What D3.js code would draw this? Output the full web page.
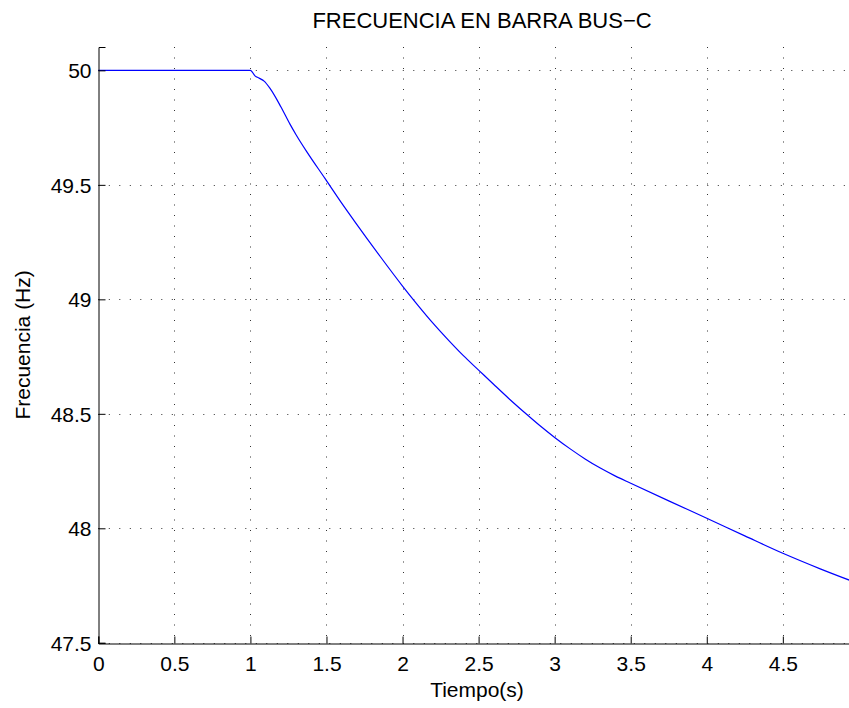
<!DOCTYPE html>
<html><head><meta charset="utf-8">
<script src="https://cdn.jsdelivr.net/npm/d3@7"></script>
<style>body{margin:0;background:#fff;} svg{display:block;font-family:"Liberation Sans",Arial,sans-serif;}</style>
</head><body>
<svg id="c" width="849" height="708"></svg>
<script>
const title = "FRECUENCIA EN BARRA BUS\u2212C";
const xLabel = "Tiempo(s)";
const yLabel = "Frecuencia (Hz)";
const xTicks = [0, 0.5, 1, 1.5, 2, 2.5, 3, 3.5, 4, 4.5];
const yTicks = [47.5, 48, 48.5, 49, 49.5, 50];
const time = [0, 1.0, 1.03, 1.06, 1.09, 1.13, 1.2, 1.26, 1.3, 1.37, 1.49, 1.6, 1.68, 1.85, 2.0, 2.1, 2.2, 2.3, 2.4, 2.5, 2.6, 2.7, 2.8, 2.9, 3.0, 3.1, 3.2, 3.3, 3.4, 3.5, 3.75, 4.0, 4.25, 4.5, 4.75, 4.94];
const freq = [50, 50, 49.976, 49.965, 49.953, 49.92, 49.841, 49.765, 49.719, 49.645, 49.528, 49.42, 49.345, 49.19, 49.058, 48.975, 48.896, 48.823, 48.754, 48.691, 48.628, 48.566, 48.507, 48.45, 48.397, 48.348, 48.303, 48.263, 48.228, 48.197, 48.12, 48.044, 47.967, 47.891, 47.822, 47.773];

const svg = d3.select("#c");
const L = 98.3, R = 849, T = 47, B = 642.8;
const x = d3.scaleLinear().domain([0, 4.935]).range([L, R]);
const y = d3.scaleLinear().domain([47.5, 50.102]).range([B, T]);

const g = svg.append("g");
// grid
g.selectAll(".vg").data(xTicks.slice(1)).enter().append("line")
  .attr("x1", d => Math.round(x(d)) + 0.5).attr("x2", d => Math.round(x(d)) + 0.5)
  .attr("y1", T).attr("y2", B)
  .attr("stroke", "#333").attr("stroke-width", 1).attr("stroke-dasharray", "1,9.5");
g.selectAll(".hg").data(yTicks).enter().append("line")
  .attr("y1", d => Math.round(y(d)) + 0.5).attr("y2", d => Math.round(y(d)) + 0.5)
  .attr("x1", L).attr("x2", R)
  .attr("stroke", "#333").attr("stroke-width", 1).attr("stroke-dasharray", "1,9.5");

// line
const line = d3.line().x((d, i) => x(time[i])).y(d => y(d)).curve(d3.curveMonotoneX);
g.append("path").datum(freq).attr("d", line)
  .attr("fill", "none").attr("stroke", "#0000ff").attr("stroke-width", 1.2);

// axes
const xa = svg.append("g").attr("transform", `translate(0,${Math.round(B)+0.5})`)
  .call(d3.axisBottom(x).tickValues(xTicks).tickSize(-7).tickPadding(14).tickFormat(d3.format("")));
const ya = svg.append("g").attr("transform", `translate(${Math.round(L)+0.5},0)`)
  .call(d3.axisLeft(y).tickValues(yTicks).tickSize(-7).tickPadding(8).tickFormat(d3.format("")));
[xa, ya].forEach(a => {
  a.select(".domain").attr("stroke", "#000").attr("stroke-width", 1);
  a.selectAll(".tick line").attr("stroke", "#000");
  a.selectAll("text").attr("font-size", 21).attr("fill", "#000")
    .attr("font-family", "Liberation Sans, Arial, sans-serif");
});
xa.selectAll("text").attr("dy", "0.71em").attr("y", 13);
ya.selectAll("text").attr("x", -7).attr("dy", "0.36em");

svg.append("text").attr("x", 482).attr("y", 28).attr("text-anchor", "middle")
  .attr("font-size", 22).text(title);
svg.append("text").attr("x", 477).attr("y", 697).attr("text-anchor", "middle")
  .attr("font-size", 21).text(xLabel);
svg.append("text").attr("transform", `translate(30,${(T+B)/2}) rotate(-90)`)
  .attr("text-anchor", "middle").attr("font-size", 21).text(yLabel);
</script>
</body></html>
